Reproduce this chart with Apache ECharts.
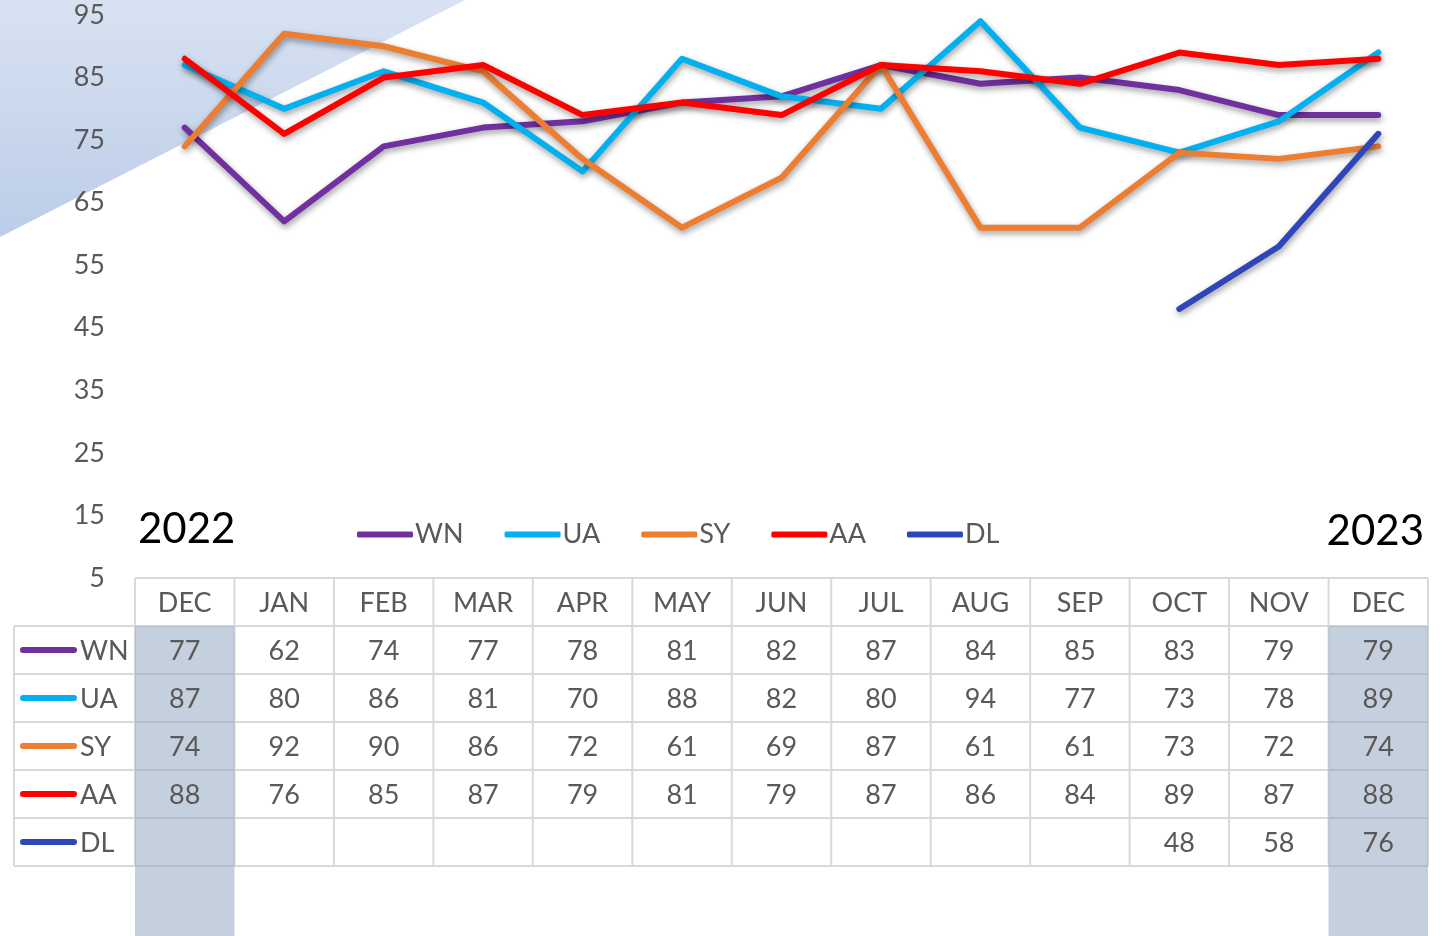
<!DOCTYPE html>
<html>
<head>
<meta charset="utf-8">
<script src="https://cdn.jsdelivr.net/npm/echarts@6/dist/echarts.min.js"></script>
<style>
html,body{margin:0;padding:0;background:#fff;}
#chart{width:1453px;height:936px;}
</style>
</head>
<body>
<div id="chart"></div>
<script>
const categories = ['DEC','JAN','FEB','MAR','APR','MAY','JUN','JUL','AUG','SEP','OCT','NOV','DEC'];
const seriesNames = ['WN','UA','SY','AA','DL'];
const WN = [77,62,74,77,78,81,82,87,84,85,83,79,79];
const UA = [87,80,86,81,70,88,82,80,94,77,73,78,89];
const SY = [74,92,90,86,72,61,69,87,61,61,73,72,74];
const AA = [88,76,85,87,79,81,79,87,86,84,89,87,88];
const DL = [null,null,null,null,null,null,null,null,null,null,48,58,76];
const yTicks = [5,15,25,35,45,55,65,75,85,95];
const yearLabels = ['2022','2023'];
const colors = ['#7030a0','#00b0f0','#ed7d31','#ff0000','#2f46b8'];
const dataSets = [WN,UA,SY,AA,DL];

const FONT = 'Lato, "Open Sans", sans-serif';
const FS = 27;
const TXT = '#595959';

const chart = echarts.init(document.getElementById('chart'), null, {renderer:'canvas'});

const series = seriesNames.map((n,i)=>({
  name:n, type:'line', data:dataSets[i], symbol:'none', connectNulls:false,
  lineStyle:{color:colors[i], width:6, cap:'round', join:'round',
    shadowColor:'rgba(0,0,0,0.4)', shadowBlur:6, shadowOffsetY:3, shadowOffsetX:1},
  itemStyle:{color:colors[i]}, z:2+i
}));

chart.setOption({
  animation:false,
  grid:{left:135, right:25, top:15, bottom:358},
  xAxis:{type:'category', data:categories, boundaryGap:true,
    axisLine:{show:false}, axisTick:{show:false}, axisLabel:{show:false}, splitLine:{show:false}},
  yAxis:{type:'value', min:yTicks[0], max:yTicks[yTicks.length-1], interval:10,
    axisLine:{show:false}, axisTick:{show:false}, splitLine:{show:false},
    axisLabel:{color:TXT, fontSize:FS, fontFamily:FONT, margin:30}},
  legend:{left:357, top:521, padding:0, itemWidth:56, itemHeight:6, itemGap:41, icon:'roundRect',
    textStyle:{color:TXT, fontSize:FS, fontFamily:FONT, padding:[0,0,0,-3]},
    data:seriesNames},
  series:series
});

const g = [];
g.push({type:'polygon', z:-10, silent:true,
  shape:{points:[[0,0],[465,0],[0,237]]},
  style:{fill:new echarts.graphic.LinearGradient(0,0,0,1,[{offset:0,color:'#d8e2f2'},{offset:1,color:'#bccde8'}])}});

const xs = categories.map((c,i)=>chart.convertToPixel({xAxisIndex:0}, i));
const step = xs[1]-xs[0];
const left = xs[0]-step/2, right = xs[xs.length-1]+step/2;
const headTop = 578, rowH = 48, nRows = seriesNames.length;
const dataTop = headTop + rowH;
const tableBottom = dataTop + rowH*nRows;
const labelLeft = 14;
const lineC = '#d9d9d9';
const line = (x1,y1,x2,y2)=>g.push({type:'line', z:1, silent:true, shape:{x1,y1,x2,y2}, style:{stroke:lineC, lineWidth:2}});
line(left, headTop, right, headTop);
for(let r=0;r<=nRows;r++){ line(labelLeft, dataTop+r*rowH, right, dataTop+r*rowH); }
line(labelLeft, dataTop, labelLeft, tableBottom);
for(let c=0;c<=categories.length;c++){ const x=left+c*step; line(x, headTop, x, tableBottom); }
[0, categories.length-1].forEach(ci=>{
  g.push({type:'rect', z:2, silent:true, shape:{x:xs[ci]-step/2, y:dataTop, width:step, height:936-dataTop},
    style:{fill:'rgba(140,162,190,0.5)'}});
});
categories.forEach((c,i)=>{
  g.push({type:'text', z:5, silent:true, x:xs[i], y:headTop+rowH/2+1,
    style:{text:c, fill:TXT, font:FS+'px '+FONT, align:'center', verticalAlign:'middle'}});
});
seriesNames.forEach((n,r)=>{
  const cy = dataTop + r*rowH + rowH/2 + 1;
  g.push({type:'line', z:5, silent:true, shape:{x1:23,y1:cy-1,x2:74,y2:cy-1}, style:{stroke:colors[r], lineWidth:6, lineCap:'round'}});
  g.push({type:'text', z:5, silent:true, x:80, y:cy,
    style:{text:n, fill:TXT, font:FS+'px '+FONT, align:'left', verticalAlign:'middle'}});
  dataSets[r].forEach((v,i)=>{
    if(v==null) return;
    g.push({type:'text', z:5, silent:true, x:xs[i], y:cy,
      style:{text:String(v), fill:TXT, font:FS+'px '+FONT, align:'center', verticalAlign:'middle'}});
  });
});
g.push({type:'text', z:5, silent:true, x:138, y:529, style:{text:yearLabels[0], fill:'#000', font:'42px '+FONT, align:'left', verticalAlign:'middle'}});
g.push({type:'text', z:5, silent:true, x:1424, y:531, style:{text:yearLabels[1], fill:'#000', font:'42px '+FONT, align:'right', verticalAlign:'middle'}});

chart.setOption({graphic:{elements:g}});
</script>
</body>
</html>
